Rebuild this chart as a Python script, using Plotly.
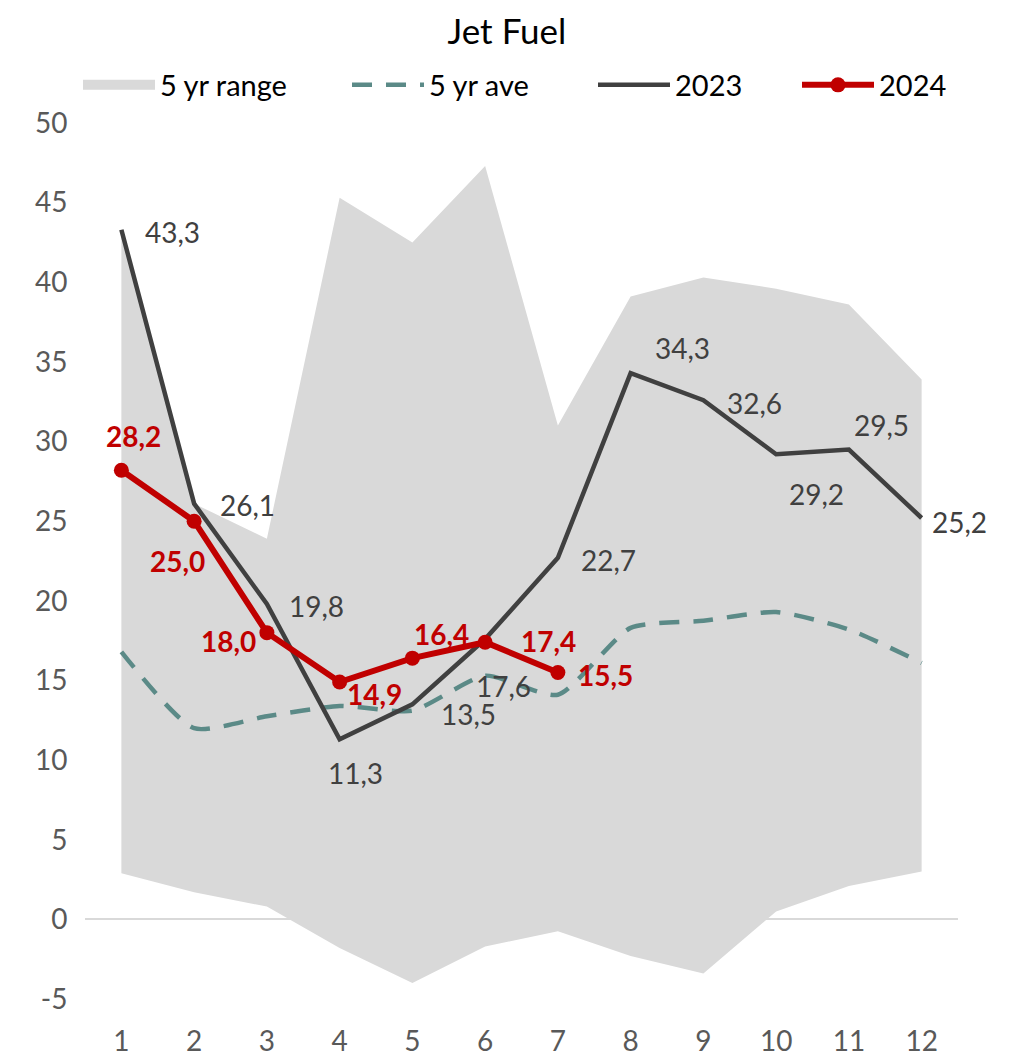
import plotly.graph_objects as go

months = [1, 2, 3, 4, 5, 6, 7, 8, 9, 10, 11, 12]
range_low = [2.9, 1.7, 0.8, -1.8, -4.0, -1.7, -0.75, -2.3, -3.4, 0.5, 2.1, 3.0]
range_high = [43.3, 26.1, 23.9, 45.3, 42.5, 47.3, 31.0, 39.1, 40.3, 39.6, 38.6, 33.9]
avg5 = [16.8, 12.0, 12.75, 13.4, 13.1, 15.3, 14.1, 18.3, 18.75, 19.3, 18.2, 16.1]
y2023 = [43.3, 26.1, 19.8, 11.3, 13.5, 17.6, 22.7, 34.3, 32.6, 29.2, 29.5, 25.2]
y2024 = [28.2, 25.0, 18.0, 14.9, 16.4, 17.4, 15.5]
ytick_vals = [-5, 0, 5, 10, 15, 20, 25, 30, 35, 40, 45, 50]
ytick_text = ["-5", "0", "5", "10", "15", "20", "25", "30", "35", "40", "45", "50"]

# label offsets in px (dx right, dy down)
off2023 = [(51, 2), (53, 1), (50, 2), (16, 34), (56, 10), (18, 47), (51, 2),
           (52, -25), (51, 3), (40, 40), (33, -25), (38, 4)]
off2024 = [(12, -34), (-17, 40), (-38, 8), (35, 12), (29, -24), (63, -1), (48, 3)]

FONT = "Lato"
C_RANGE = "#D9D9D9"
C_AVE = "#5B8A87"
C_23 = "#404040"
C_24 = "#C00000"

# page is offset by the 8px body margin -> figure coords = page - 8
W, H = 1007, 1050
ML, MT = 77, 115
PW, PH = 873, 876
MR, MB = W - ML - PW, H - MT - PH


def lx(page_x):
    return (page_x - 8 - ML) / PW


LEG_Y = 1 + (MT - (85 - 8)) / PH

fig = go.Figure()
fig.add_trace(go.Scatter(x=months, y=range_low, mode="lines", line=dict(width=0),
                         showlegend=False, hoverinfo="skip"))
fig.add_trace(go.Scatter(x=months, y=range_high, mode="lines", line=dict(width=0),
                         fill="tonexty", fillcolor=C_RANGE, showlegend=False, hoverinfo="skip"))
# legend entry for range
fig.add_trace(go.Scatter(x=[None], y=[None], mode="lines", name="5 yr range",
                         line=dict(color=C_RANGE, width=18), legend="legend"))
fig.add_trace(go.Scatter(x=months, y=avg5, mode="lines", name="5 yr ave", legend="legend2",
                         line=dict(color=C_AVE, width=4.5, dash="20px,14px", shape="spline", smoothing=0.6)))
fig.add_trace(go.Scatter(x=months, y=y2023, mode="lines", name="2023", legend="legend3",
                         line=dict(color=C_23, width=4.5)))
fig.add_trace(go.Scatter(x=months[:len(y2024)], y=y2024, mode="lines+markers", name="2024",
                         legend="legend4",
                         line=dict(color=C_24, width=6), marker=dict(color=C_24, size=15)))

for xv, yv, (dx, dy) in zip(months, y2023, off2023):
    fig.add_annotation(x=xv, y=yv, text=f"{yv:.1f}".replace(".", ","), showarrow=False,
                       xshift=dx, yshift=-dy, font=dict(family=FONT, size=28, color=C_23))
for xv, yv, (dx, dy) in zip(months, y2024, off2024):
    fig.add_annotation(x=xv, y=yv, text="<b>" + f"{yv:.1f}".replace(".", ",") + "</b>",
                       showarrow=False, xshift=dx, yshift=-dy,
                       font=dict(family=FONT, size=28, color=C_24))

leg_common = dict(orientation="h", xanchor="left", yanchor="middle", y=LEG_Y,
                  font=dict(family=FONT, size=29, color="black"), itemwidth=72,
                  bgcolor="rgba(0,0,0,0)", borderwidth=0)

fig.update_layout(
    width=W, height=H,
    margin=dict(l=ML, r=MR, t=MT, b=MB, autoexpand=False),
    paper_bgcolor="white", plot_bgcolor="white",
    title=dict(text="Jet Fuel", x=(507 - 8) / W, xanchor="center", y=1 - (32 - 8) / H,
               yanchor="middle", font=dict(family=FONT, size=35, color="black")),
    font=dict(family=FONT, size=28, color="#595959"),
    legend=dict(x=lx(83 - 5), **leg_common),
    legend2=dict(x=lx(352 - 5), **leg_common),
    legend3=dict(x=lx(598 - 5), **leg_common),
    legend4=dict(x=lx(802 - 5), **leg_common),
    showlegend=True,
)
fig.update_xaxes(range=[0.5, 12.5], tickvals=months, ticktext=[str(m) for m in months],
                 showgrid=False, zeroline=False, showline=False, automargin=False,
                 ticks="outside", ticklen=17, tickcolor="rgba(0,0,0,0)",
                 tickfont=dict(family=FONT, size=28, color="#595959"))
fig.update_yaxes(range=[-5, 50], tickvals=ytick_vals, ticktext=ytick_text,
                 showgrid=False, zeroline=True, zerolinecolor="#D9D9D9", zerolinewidth=2,
                 showline=False, automargin=False, ticks="outside", ticklen=11,
                 tickcolor="rgba(0,0,0,0)",
                 tickfont=dict(family=FONT, size=28, color="#595959"))

fig.write_html("out.html")
